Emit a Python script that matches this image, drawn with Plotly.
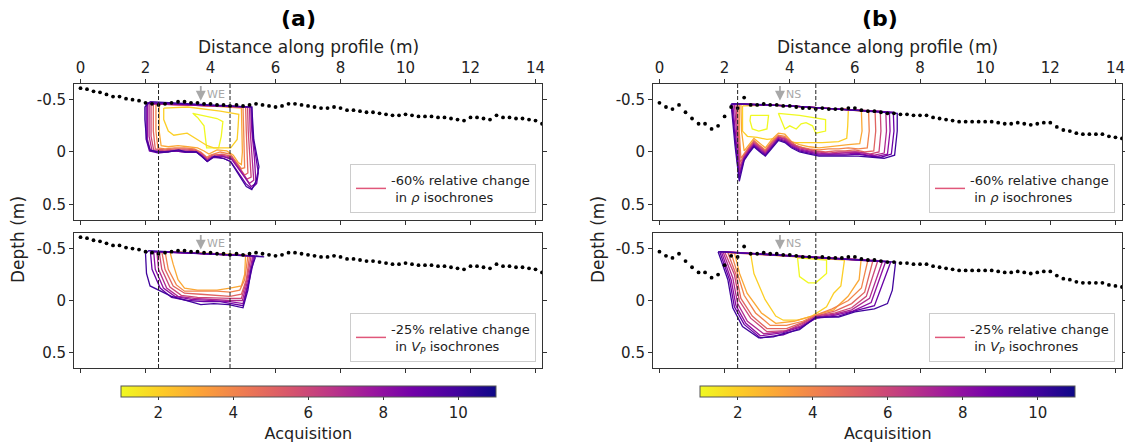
import plotly.graph_objects as go
from plotly.colors import sample_colorscale
import plotly.colors as pc

# ---------------- data ----------------
TOPO_X = [0.0, 0.2, 0.4, 0.6, 0.8, 1.0, 1.2, 1.4, 1.6, 1.8, 2.0, 2.2, 2.4, 2.6, 2.8, 3.0, 3.2, 3.4,
          3.6, 3.8, 4.0, 4.2, 4.4, 4.6, 4.8, 5.0, 5.2, 5.4, 5.6, 5.8, 6.0, 6.2, 6.4, 6.6, 6.8, 7.0,
          7.2, 7.4, 7.6, 7.8, 8.0, 8.2, 8.4, 8.6, 8.8, 9.0, 9.2, 9.4, 9.6, 9.8, 10.0, 10.2, 10.4, 10.6,
          10.8, 11.0, 11.2, 11.4, 11.6, 11.8, 12.0, 12.2, 12.4, 12.6, 12.8, 13.0, 13.2, 13.4, 13.6, 13.8,
          14.0, 14.2]
TOPO_A = [-0.61, -0.60, -0.58, -0.57, -0.55, -0.53, -0.53, -0.51, -0.50, -0.49, -0.47, -0.46, -0.45,
          -0.46, -0.47, -0.48, -0.48, -0.47, -0.47, -0.46, -0.46, -0.45, -0.45, -0.44, -0.45, -0.44,
          -0.45, -0.46, -0.45, -0.44, -0.43, -0.44, -0.46, -0.46, -0.45, -0.44, -0.43, -0.42, -0.42,
          -0.43, -0.42, -0.40, -0.40, -0.39, -0.38, -0.38, -0.37, -0.36, -0.35, -0.35, -0.36, -0.35,
          -0.34, -0.34, -0.34, -0.33, -0.33, -0.32, -0.31, -0.30, -0.33, -0.33, -0.32, -0.31, -0.35,
          -0.33, -0.33, -0.32, -0.32, -0.31, -0.30, -0.27]
TOPO_B = [-0.47, -0.43, -0.41, -0.45, -0.38, -0.32, -0.27, -0.27, -0.22, -0.25, -0.34, -0.43, -0.42,
          -0.52, -0.45, -0.45, -0.46, -0.45, -0.45, -0.44, -0.44, -0.43, -0.42, -0.42, -0.41, -0.42,
          -0.41, -0.41, -0.41, -0.42, -0.42, -0.40, -0.39, -0.39, -0.38, -0.37, -0.37, -0.36, -0.36,
          -0.35, -0.35, -0.35, -0.33, -0.32, -0.31, -0.30, -0.29, -0.29, -0.29, -0.29, -0.29, -0.29,
          -0.28, -0.27, -0.27, -0.28, -0.27, -0.26, -0.27, -0.28, -0.28, -0.24, -0.21, -0.20, -0.18,
          -0.17, -0.17, -0.17, -0.17, -0.15, -0.14, -0.13]

X_TICKS = [0, 2, 4, 6, 8, 10, 12, 14]
Y_TICKS = [-0.5, 0, 0.5]
Y_TICKTEXT = ["-0.5", "0", "0.5"]
CB_TICKS = [2, 4, 6, 8, 10]
ACQ_MIN, ACQ_MAX = 1, 11

DASH_A = [2.4, 4.6]
DASH_B = [2.4, 4.8]
ARROW_X = 3.7

# (a) resistivity isochrones
RHO_A_ACQ = [1, 2, 3, 4, 5, 6, 7, 8, 9, 10]
RHO_A_X = [
    [3.45, 4.2, 4.38, 4.33, 4.25, 3.88, 3.8, 3.6, 3.45],
    [2.56, 3.3, 4.3, 4.87, 4.85, 4.82, 4.62, 4.1, 3.9, 3.6, 3.28, 2.87, 2.7, 2.56, 2.56],
    [2.42, 3.5, 4.95, 4.96, 4.98, 4.95, 4.85, 4.7, 4.5, 4.2, 3.95, 3.8, 3.6, 3.3, 3.0, 2.7, 2.48, 2.42, 2.42],
    [2.32, 5.0, 5.02, 5.05, 5.05, 4.95, 4.8, 4.6, 4.3, 4.0, 3.88, 3.7, 3.5, 3.2, 2.9, 2.6, 2.38, 2.32, 2.32],
    [2.24, 5.08, 5.1, 5.12, 5.15, 5.05, 4.9, 4.65, 4.35, 4.05, 3.9, 3.72, 3.52, 3.2, 2.9, 2.6, 2.3, 2.24, 2.24],
    [2.17, 5.14, 5.16, 5.2, 5.25, 5.12, 4.95, 4.65, 4.35, 4.05, 3.9, 3.72, 3.54, 3.2, 2.9, 2.6, 2.25, 2.17, 2.17],
    [2.11, 5.2, 5.22, 5.28, 5.33, 5.2, 5.0, 4.65, 4.35, 4.05, 3.9, 3.73, 3.55, 3.2, 2.9, 2.5, 2.2, 2.11, 2.11],
    [2.06, 5.24, 5.27, 5.35, 5.4, 5.25, 5.05, 4.65, 4.35, 4.05, 3.9, 3.74, 3.56, 3.2, 2.9, 2.5, 2.15, 2.06, 2.06],
    [2.02, 5.27, 5.3, 5.42, 5.47, 5.42, 5.27, 5.08, 4.85, 4.62, 4.38, 4.1, 3.9, 3.74, 3.56, 3.2, 2.9, 2.4, 2.12, 2.02, 2.02],
    [2.14, 5.27, 5.33, 5.44, 5.49, 5.41, 5.27, 5.1, 4.89, 4.61, 4.39, 4.12, 3.9, 3.73, 3.57, 3.24, 3.02, 2.69, 2.36, 2.14, 2.03, 1.98, 1.98, 2.14],
]
RHO_A_Z = [
    [-0.37, -0.32, -0.29, -0.15, -0.04, -0.04, -0.25, -0.33, -0.37],
    [-0.42, -0.43, -0.39, -0.36, -0.25, -0.12, -0.04, -0.04, -0.06, -0.12, -0.18, -0.16, -0.2, -0.31, -0.42],
    [-0.46, -0.45, -0.42, -0.2, 0.0, 0.12, 0.1, 0.03, -0.01, -0.02, 0.02, -0.01, -0.04, -0.05, -0.06, -0.05, -0.06, -0.2, -0.46],
    [-0.46, -0.43, -0.2, 0.0, 0.15, 0.16, 0.1, 0.02, 0.0, 0.03, 0.05, 0.0, -0.03, -0.04, -0.04, -0.03, -0.04, -0.2, -0.46],
    [-0.46, -0.43, -0.2, 0.0, 0.2, 0.22, 0.15, 0.04, 0.02, 0.03, 0.06, 0.01, -0.02, -0.03, -0.03, -0.02, -0.03, -0.2, -0.46],
    [-0.46, -0.43, -0.2, 0.02, 0.24, 0.26, 0.18, 0.05, 0.03, 0.04, 0.07, 0.02, -0.01, -0.02, -0.02, -0.01, -0.02, -0.15, -0.46],
    [-0.46, -0.43, -0.2, 0.03, 0.27, 0.3, 0.21, 0.06, 0.04, 0.05, 0.08, 0.03, 0.0, -0.01, -0.01, 0.0, -0.01, -0.15, -0.46],
    [-0.47, -0.43, -0.2, 0.05, 0.3, 0.33, 0.24, 0.07, 0.04, 0.05, 0.09, 0.04, 0.0, 0.0, -0.01, 0.0, -0.01, -0.12, -0.47],
    [-0.47, -0.43, -0.15, 0.08, 0.2, 0.3, 0.35, 0.3, 0.2, 0.09, 0.06, 0.05, 0.09, 0.04, 0.0, 0.0, -0.01, 0.01, -0.01, -0.12, -0.47],
    [-0.48, -0.43, -0.12, 0.07, 0.14, 0.27, 0.36, 0.33, 0.23, 0.09, 0.06, 0.04, 0.09, 0.04, 0.0, 0.0, -0.02, 0.0, 0.0, -0.02, -0.12, -0.31, -0.43, -0.48],
]

# (a) P-wave velocity isochrones
VP_A_ACQ = [3, 4, 5, 6, 7, 8, 9, 10]
VP_A_X = [
    [2.75, 2.85, 3.0, 3.2, 3.6, 4.2, 4.6, 4.95, 5.05, 5.08, 2.75],
    [2.6, 2.7, 2.95, 3.2, 3.7, 4.2, 4.6, 4.9, 5.05, 5.15, 2.6],
    [2.5, 2.6, 2.85, 3.2, 3.7, 4.2, 4.6, 4.95, 5.1, 5.2, 2.5],
    [2.42, 2.5, 2.75, 3.1, 3.6, 4.2, 4.6, 4.95, 5.12, 5.25, 2.42],
    [2.35, 2.4, 2.65, 3.0, 3.5, 4.0, 4.6, 4.98, 5.15, 5.3, 2.35],
    [2.25, 2.3, 2.55, 2.9, 3.4, 4.0, 4.6, 5.0, 5.18, 5.33, 2.25],
    [2.15, 2.2, 2.45, 2.8, 3.3, 3.8, 4.3, 4.6, 5.0, 5.2, 5.36, 2.15],
    [2.0, 2.03, 2.14, 2.42, 2.8, 3.24, 3.7, 4.1, 4.56, 5.0, 5.15, 5.25, 5.4, 5.65, 2.1, 2.0],
]
VP_A_Z = [
    [-0.47, -0.35, -0.2, -0.12, -0.1, -0.1, -0.12, -0.14, -0.25, -0.44, -0.47],
    [-0.47, -0.3, -0.15, -0.09, -0.09, -0.09, -0.08, -0.1, -0.2, -0.43, -0.47],
    [-0.47, -0.3, -0.14, -0.07, -0.06, -0.05, -0.04, -0.06, -0.2, -0.43, -0.47],
    [-0.47, -0.3, -0.13, -0.05, -0.03, -0.02, -0.02, -0.02, -0.2, -0.43, -0.47],
    [-0.47, -0.3, -0.12, -0.04, -0.02, -0.01, 0.0, 0.0, -0.2, -0.43, -0.47],
    [-0.47, -0.3, -0.12, -0.04, -0.01, 0.0, 0.01, 0.03, -0.2, -0.43, -0.47],
    [-0.47, -0.3, -0.12, -0.03, 0.0, 0.01, 0.01, 0.03, 0.05, -0.2, -0.43, -0.47],
    [-0.45, -0.26, -0.14, -0.1, -0.04, 0.0, 0.04, 0.03, 0.04, 0.07, -0.1, -0.3, -0.43, -0.42, -0.48, -0.45],
]

# (b) resistivity isochrones
RHO_B_ACQ = [1, 2, 3, 4, 5, 6, 7, 8, 9, 10]
RHO_B_X = [
    [2.8, 3.35, 3.3, 3.05, 2.85, 2.78, 2.8, None,
     3.65, 4.3, 5.1, 5.1, 4.8, 4.7, 4.5, 4.35, 4.2, 4.0, 3.85, 3.75, 3.65],
    [2.55, 3.5, 4.8, 5.8, 5.78, 5.75, 5.5, 5.0, 4.6, 4.2, 3.9, 3.6, 3.3, 3.0, 2.7, 2.55, 2.55],
    [2.5, 4.0, 5.5, 6.2, 6.22, 6.15, 5.8, 5.5, 5.2, 4.9, 4.6, 4.3, 4.05, 3.85, 3.65, 3.45, 3.25, 3.05, 2.9, 2.75, 2.6, 2.52, 2.5],
    [2.45, 4.0, 5.5, 6.42, 6.44, 6.38, 6.1, 5.8, 5.5, 5.2, 4.9, 4.6, 4.3, 4.05, 3.85, 3.65, 3.45, 3.25, 3.05, 2.9, 2.75, 2.6, 2.5, 2.45, 2.45],
    [2.4, 4.0, 5.5, 6.62, 6.64, 6.58, 6.3, 6.0, 5.7, 5.4, 5.1, 4.8, 4.5, 4.2, 4.0, 3.82, 3.65, 3.45, 3.25, 3.05, 2.9, 2.75, 2.6, 2.48, 2.42, 2.4],
    [2.35, 4.0, 5.5, 6.78, 6.8, 6.74, 6.45, 6.1, 5.8, 5.5, 5.2, 4.9, 4.6, 4.3, 4.05, 3.85, 3.65, 3.45, 3.25, 3.05, 2.9, 2.75, 2.6, 2.47, 2.4, 2.35],
    [2.3, 4.0, 5.5, 6.95, 6.97, 6.9, 6.6, 6.3, 6.0, 5.6, 5.2, 4.9, 4.6, 4.3, 4.05, 3.85, 3.65, 3.45, 3.25, 3.05, 2.9, 2.75, 2.6, 2.46, 2.38, 2.3],
    [2.25, 4.0, 5.5, 7.06, 7.08, 7.0, 6.7, 6.4, 6.05, 5.7, 5.3, 4.9, 4.6, 4.3, 4.05, 3.85, 3.65, 3.45, 3.25, 3.05, 2.9, 2.75, 2.6, 2.45, 2.36, 2.25],
    [2.22, 4.0, 5.5, 7.18, 7.2, 7.12, 6.8, 6.45, 6.1, 5.7, 5.3, 4.9, 4.6, 4.3, 4.05, 3.85, 3.65, 3.45, 3.25, 3.05, 2.9, 2.75, 2.6, 2.44, 2.34, 2.22],
    [2.2, 2.6, 4.0, 5.5, 7.3, 7.3, 7.22, 6.9, 6.5, 6.1, 5.7, 5.3, 4.9, 4.6, 4.3, 4.05, 3.85, 3.65, 3.45, 3.25, 3.05, 2.9, 2.75, 2.6, 2.45, 2.32, 2.2],
]
RHO_B_Z = [
    [-0.35, -0.35, -0.22, -0.2, -0.22, -0.3, -0.35, None,
     -0.37, -0.35, -0.31, -0.2, -0.18, -0.25, -0.28, -0.27, -0.22, -0.25, -0.22, -0.3, -0.37],
    [-0.44, -0.45, -0.42, -0.41, -0.25, -0.13, -0.1, -0.09, -0.09, -0.09, -0.1, -0.13, -0.12, -0.14, -0.15, -0.2, -0.44],
    [-0.46, -0.44, -0.41, -0.39, -0.2, -0.08, -0.07, -0.06, -0.05, -0.04, -0.05, -0.07, -0.1, -0.17, -0.18, -0.12, -0.04, -0.09, -0.13, -0.07, -0.01, -0.2, -0.46],
    [-0.46, -0.44, -0.41, -0.39, -0.2, -0.04, -0.03, -0.04, -0.03, -0.03, -0.02, -0.03, -0.05, -0.08, -0.15, -0.16, -0.1, -0.02, -0.07, -0.11, -0.05, 0.02, 0.06, -0.2, -0.46],
    [-0.46, -0.44, -0.41, -0.39, -0.2, -0.01, 0.0, -0.02, -0.01, -0.01, 0.0, -0.01, -0.03, -0.06, -0.11, -0.14, -0.15, -0.09, -0.01, -0.06, -0.1, -0.04, 0.03, 0.1, -0.2, -0.46],
    [-0.46, -0.44, -0.41, -0.39, -0.2, 0.0, 0.02, 0.0, 0.0, 0.0, 0.01, 0.0, -0.02, -0.04, -0.08, -0.13, -0.14, -0.08, 0.0, -0.05, -0.09, -0.03, 0.04, 0.14, -0.15, -0.46],
    [-0.46, -0.44, -0.41, -0.38, -0.2, 0.01, 0.03, 0.01, 0.0, 0.01, 0.02, 0.01, -0.01, -0.03, -0.07, -0.12, -0.14, -0.07, 0.01, -0.04, -0.08, -0.02, 0.05, 0.18, -0.12, -0.46],
    [-0.46, -0.44, -0.41, -0.38, -0.2, 0.02, 0.04, 0.03, 0.01, 0.02, 0.02, 0.02, 0.0, -0.02, -0.06, -0.11, -0.13, -0.06, 0.02, -0.03, -0.07, -0.01, 0.06, 0.22, -0.1, -0.46],
    [-0.46, -0.44, -0.41, -0.38, -0.2, 0.02, 0.05, 0.04, 0.02, 0.03, 0.03, 0.03, 0.01, -0.01, -0.05, -0.1, -0.12, -0.05, 0.03, -0.02, -0.06, 0.0, 0.07, 0.25, -0.08, -0.46],
    [-0.46, -0.46, -0.44, -0.41, -0.37, -0.2, 0.03, 0.06, 0.05, 0.04, 0.04, 0.04, 0.04, 0.02, 0.0, -0.04, -0.09, -0.11, -0.04, 0.04, -0.01, -0.05, 0.01, 0.08, 0.28, -0.06, -0.46],
]

# (b) P-wave velocity isochrones
VP_B_ACQ = [1, 2, 3, 4, 5, 6, 7, 8, 9, 10]
VP_B_X = [
    [4.24, 4.3, 4.57, 4.8, 5.13, 5.13, 4.24],
    [2.8, 2.9, 3.24, 3.57, 3.8, 4.24, 4.68, 5.13, 5.35, 5.57, 5.68, 2.8],
    [2.3, 2.46, 2.69, 3.13, 3.57, 4.13, 4.68, 5.35, 5.79, 6.13, 6.19, 2.3],
    [2.2, 2.4, 2.6, 2.95, 3.4, 3.9, 4.4, 4.8, 5.3, 5.8, 6.2, 6.4, 2.2],
    [2.1, 2.35, 2.5, 2.85, 3.3, 3.9, 4.4, 4.8, 5.4, 5.9, 6.3, 6.55, 2.1],
    [2.0, 2.3, 2.45, 2.8, 3.3, 3.9, 4.4, 4.8, 5.4, 5.9, 6.35, 6.7, 2.0],
    [1.95, 2.25, 2.4, 2.7, 3.2, 3.8, 4.3, 4.8, 5.4, 5.9, 6.45, 6.85, 1.95],
    [1.9, 2.2, 2.35, 2.65, 3.1, 3.8, 4.3, 4.8, 5.4, 5.95, 6.5, 6.95, 1.9],
    [1.85, 2.15, 2.3, 2.6, 3.1, 3.8, 4.3, 4.8, 5.5, 6.0, 6.6, 7.1, 1.85],
    [1.8, 2.1, 2.25, 2.55, 3.05, 3.5, 3.8, 4.3, 4.8, 5.5, 6.0, 6.6, 7.0, 7.15, 7.25, 1.8],
]
VP_B_Z = [
    [-0.41, -0.23, -0.17, -0.17, -0.26, -0.39, -0.41],
    [-0.45, -0.26, -0.01, 0.15, 0.19, 0.19, 0.15, 0.06, -0.07, -0.14, -0.39, -0.45],
    [-0.46, -0.26, -0.07, 0.12, 0.22, 0.2, 0.15, 0.09, -0.04, -0.2, -0.39, -0.46],
    [-0.46, -0.26, -0.05, 0.12, 0.24, 0.24, 0.2, 0.14, 0.08, 0.0, -0.12, -0.39, -0.46],
    [-0.46, -0.25, -0.02, 0.15, 0.27, 0.27, 0.21, 0.15, 0.1, 0.03, -0.08, -0.38, -0.46],
    [-0.47, -0.25, 0.0, 0.17, 0.3, 0.29, 0.22, 0.15, 0.12, 0.07, -0.04, -0.38, -0.47],
    [-0.47, -0.22, 0.03, 0.2, 0.32, 0.3, 0.25, 0.16, 0.13, 0.09, -0.02, -0.38, -0.47],
    [-0.47, -0.2, 0.05, 0.22, 0.34, 0.31, 0.26, 0.17, 0.14, 0.1, 0.02, -0.38, -0.47],
    [-0.47, -0.2, 0.06, 0.23, 0.36, 0.33, 0.27, 0.17, 0.15, 0.1, 0.05, -0.37, -0.47],
    [-0.47, -0.2, 0.07, 0.25, 0.36, 0.35, 0.32, 0.28, 0.16, 0.16, 0.11, 0.08, 0.03, -0.1, -0.37, -0.47],
]

LEGEND_RHO = "-60% relative change<br> in <i>ρ</i> isochrones"
LEGEND_VP = "-25% relative change<br> in <i>V<sub>P</sub></i> isochrones"
LEGEND_COLOR = "#e0577a"

# ---------------- figure ----------------
FONT = "DejaVu Sans"
TXT = "#222222"
SCALE = pc.sequential.Plasma_r

fig = go.Figure()

panels = [
    ("x", "y", TOPO_A, RHO_A_X, RHO_A_Z, RHO_A_ACQ, "legend", LEGEND_RHO, DASH_A, "WE"),
    ("x2", "y2", TOPO_A, VP_A_X, VP_A_Z, VP_A_ACQ, "legend2", LEGEND_VP, DASH_A, "WE"),
    ("x3", "y3", TOPO_B, RHO_B_X, RHO_B_Z, RHO_B_ACQ, "legend3", LEGEND_RHO, DASH_B, "NS"),
    ("x4", "y4", TOPO_B, VP_B_X, VP_B_Z, VP_B_ACQ, "legend4", LEGEND_VP, DASH_B, "NS"),
]

shapes = []
annotations = []
for xa, ya, topo, cx, cz, acq, leg, legtxt, dashes, arrtxt in panels:
    for xs, zs, a in zip(cx, cz, acq):
        col = sample_colorscale(SCALE, [(a - ACQ_MIN) / (ACQ_MAX - ACQ_MIN)])[0]
        fig.add_trace(go.Scatter(x=xs, y=zs, mode="lines", xaxis=xa, yaxis=ya,
                                 line=dict(color=col, width=1.3), showlegend=False,
                                 hoverinfo="skip"))
    fig.add_trace(go.Scatter(x=TOPO_X, y=topo, mode="markers", xaxis=xa, yaxis=ya,
                             marker=dict(color="black", size=3.8), showlegend=False,
                             hoverinfo="skip"))
    fig.add_trace(go.Scatter(x=[None], y=[None], mode="lines", xaxis=xa, yaxis=ya,
                             line=dict(color=LEGEND_COLOR, width=1.5), name=legtxt,
                             legend=leg, showlegend=True))
    for d in dashes:
        shapes.append(dict(type="line", xref=xa, yref=f"{ya} domain", x0=d, x1=d, y0=0, y1=1,
                           line=dict(color="#222", width=1, dash="4px,2px")))
    annotations.append(dict(x=ARROW_X, y=-0.49, ax=ARROW_X, ay=-0.645, xref=xa, yref=ya,
                            axref=xa, ayref=ya, showarrow=True, arrowhead=2, arrowsize=1.1,
                            arrowwidth=1.8, arrowcolor="#a8a8a8", text=""))
    annotations.append(dict(x=ARROW_X + 0.12, y=-0.55, xref=xa, yref=ya, text=arrtxt,
                            showarrow=False, xanchor="left", yanchor="middle",
                            font=dict(family=FONT, size=11, color="#a8a8a8")))

# colorbars
for xc in [0.2741, 0.7891]:
    fig.add_trace(go.Scatter(
        x=[None], y=[None], mode="markers", showlegend=False,
        marker=dict(color=[ACQ_MIN], cmin=ACQ_MIN, cmax=ACQ_MAX, colorscale="Plasma_r",
                    showscale=True,
                    colorbar=dict(orientation="h", x=xc, xanchor="center", y=1 - 386 / 446,
                                  yanchor="top", len=375 / 1125, lenmode="fraction",
                                  thickness=11, thicknessmode="pixels", xpad=0, ypad=0,
                                  outlinewidth=1, outlinecolor="#555",
                                  tickvals=CB_TICKS, ticks="outside", ticklen=3,
                                  tickcolor="#333",
                                  tickfont=dict(family=FONT, size=15, color=TXT),
                                  title=dict(text="Acquisition", side="bottom",
                                             font=dict(family=FONT, size=16, color=TXT))))))

XA = [0.0658, 0.4818]
XB = [0.5804, 0.9973]
YT = [0.5067, 0.8117]
YB = [0.1749, 0.4776]


def xaxis(domain, anchor, top):
    d = dict(domain=domain, anchor=anchor, range=[-0.2, 14.2], tickvals=X_TICKS,
             showgrid=False, zeroline=False, showline=True, linecolor="#333", linewidth=1,
             ticks="outside", ticklen=4, tickcolor="#333",
             tickfont=dict(family=FONT, size=15, color=TXT), automargin=False)
    if top:
        d.update(side="top", mirror="ticks", showticklabels=True)
    else:
        d.update(side="bottom", mirror=True, showticklabels=False)
    return d


def yaxis(domain, anchor):
    return dict(domain=domain, anchor=anchor, range=[0.65, -0.65], tickvals=Y_TICKS,
                ticktext=Y_TICKTEXT, showgrid=False, zeroline=False, showline=True,
                linecolor="#333", linewidth=1, mirror="ticks", ticks="outside", ticklen=4,
                tickcolor="#333", tickfont=dict(family=FONT, size=15, color=TXT),
                automargin=False)


def legend(xr, yb):
    return dict(x=xr, y=yb, xanchor="right", yanchor="bottom", xref="paper", yref="paper",
                bgcolor="rgba(255,255,255,0.85)", bordercolor="#cccccc", borderwidth=1,
                font=dict(family=FONT, size=13, color=TXT), itemwidth=30,
                tracegroupgap=0)


def label(x, y, text, size, angle=0, color=TXT):
    return dict(x=x, y=y, xref="paper", yref="paper", text=text, showarrow=False,
                xanchor="center", yanchor="middle", textangle=angle,
                font=dict(family=FONT, size=size, color=color))


annotations += [
    label(298 / 1125, 1 - 18 / 446, "<b>(a)</b>", 22, color="black"),
    label(880 / 1125, 1 - 18 / 446, "<b>(b)</b>", 22, color="black"),
    label(308 / 1125, 1 - 47 / 446, "Distance along profile (m)", 17),
    label(887.5 / 1125, 1 - 47 / 446, "Distance along profile (m)", 17),
    label(18 / 1125, 1 - 240 / 446, "Depth (m)", 17, angle=-90),
    label(598 / 1125, 1 - 240 / 446, "Depth (m)", 17, angle=-90),
]

fig.update_layout(
    width=1125, height=446, margin=dict(l=0, r=0, t=0, b=0),
    paper_bgcolor="white", plot_bgcolor="white",
    font=dict(family=FONT, color=TXT),
    xaxis=xaxis(XA, "y", True), yaxis=yaxis(YT, "x"),
    xaxis2=xaxis(XA, "y2", False), yaxis2=yaxis(YB, "x2"),
    xaxis3=xaxis(XB, "y3", True), yaxis3=yaxis(YT, "x3"),
    xaxis4=xaxis(XB, "y4", False), yaxis4=yaxis(YB, "x4"),
    legend=legend(536 / 1125, 1 - 213 / 446),
    legend2=legend(536 / 1125, 1 - 362 / 446),
    legend3=legend(1115 / 1125, 1 - 213 / 446),
    legend4=legend(1115 / 1125, 1 - 362 / 446),
    shapes=shapes, annotations=annotations,
)

fig.write_html("out.html", config={"displayModeBar": False},
               post_script="document.body.style.margin='0px';")
